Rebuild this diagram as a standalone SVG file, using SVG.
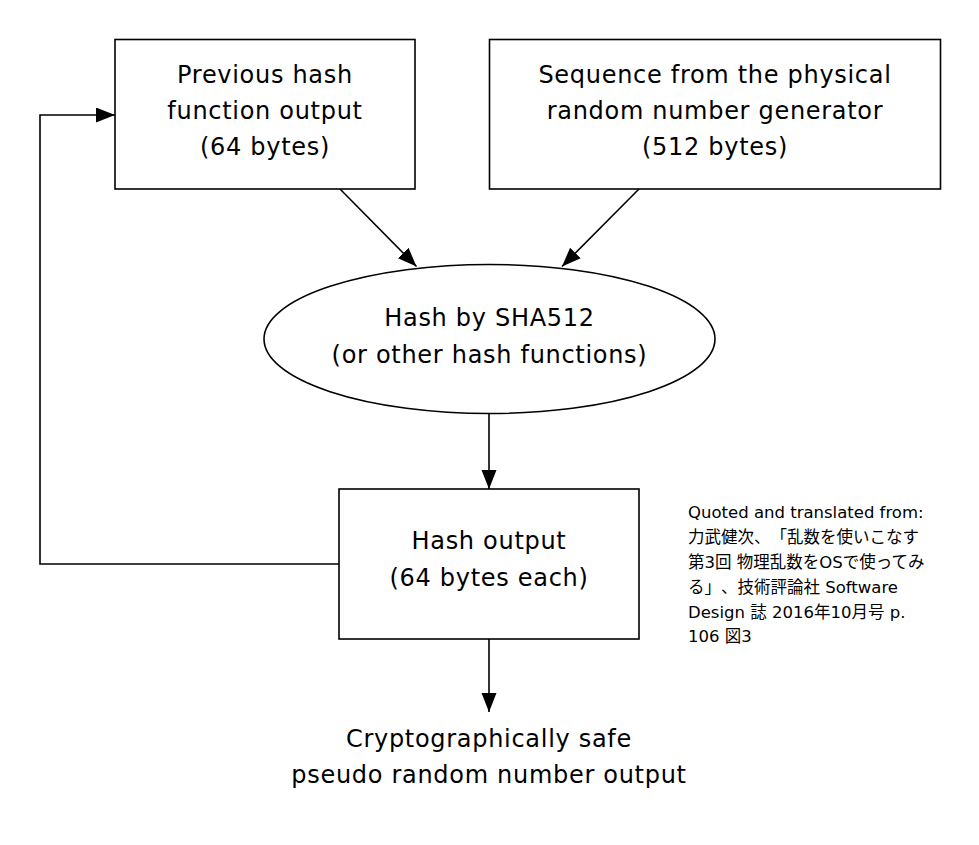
<svg xmlns="http://www.w3.org/2000/svg" width="979" height="845" viewBox="0 0 979 845">
  <style>
    .shape { fill: #ffffff; stroke: #000000; stroke-width: 1.6; }
    .edge { fill: none; stroke: #000000; stroke-width: 1.6; }
    .lbl { font-family: "DejaVu Sans", "Noto Sans CJK JP", sans-serif; font-size: 24px; letter-spacing: 0.7px; fill: #000000; text-anchor: middle; }
    .note { font-family: "DejaVu Sans", "Noto Sans CJK JP", sans-serif; font-size: 16.5px; fill: #000000; text-spacing-trim: space-all; }
  </style>
  <defs>
    <marker id="arrow" markerUnits="userSpaceOnUse" markerWidth="20" markerHeight="16" refX="19" refY="7.5" orient="auto">
      <path d="M0,0 L19,7.5 L0,15 Z" fill="#000000"/>
    </marker>
  </defs>
  <rect width="979" height="845" fill="#ffffff"/>

  <g id="connectors">
    <line class="edge" x1="340" y1="189" x2="416.5" y2="266.5" marker-end="url(#arrow)"/>
    <line class="edge" x1="639" y1="189" x2="562" y2="266.5" marker-end="url(#arrow)"/>
    <line class="edge" x1="489" y1="414" x2="489" y2="489" marker-end="url(#arrow)"/>
    <line class="edge" x1="489" y1="639" x2="489" y2="712" marker-end="url(#arrow)"/>
    <polyline class="edge" points="339,564 40,564 40,115 115,115" marker-end="url(#arrow)"/>
  </g>

  <g id="prev-hash">
    <rect class="shape" x="115" y="39.5" width="300" height="149.5"/>
    <text class="lbl" x="265" y="83">Previous hash</text>
    <text class="lbl" x="265" y="119">function output</text>
    <text class="lbl" x="265" y="155">(64 bytes)</text>
  </g>

  <g id="physical-rng">
    <rect class="shape" x="489.5" y="39.5" width="451" height="149.5"/>
    <text class="lbl" x="715" y="83">Sequence from the physical</text>
    <text class="lbl" x="715" y="119">random number generator</text>
    <text class="lbl" x="715" y="155">(512 bytes)</text>
  </g>

  <g id="sha512">
    <ellipse class="shape" cx="489.5" cy="339" rx="225.5" ry="74.5"/>
    <text class="lbl" x="489.5" y="326">Hash by SHA512</text>
    <text class="lbl" x="489.5" y="363">(or other hash functions)</text>
  </g>

  <g id="hash-output">
    <rect class="shape" x="339" y="489" width="300" height="150"/>
    <text class="lbl" x="489" y="549">Hash output</text>
    <text class="lbl" x="489" y="586">(64 bytes each)</text>
  </g>

  <g id="final-output">
    <text class="lbl" x="489" y="747">Cryptographically safe</text>
    <text class="lbl" x="489" y="783">pseudo random number output</text>
  </g>

  <g id="citation">
    <text class="note" x="688" y="518">Quoted and translated from:</text>
    <text class="note" x="688" y="543">力武健次、「乱数を使いこなす</text>
    <text class="note" x="688" y="568">第3回 物理乱数をOSで使ってみ</text>
    <text class="note" x="688" y="593">る」、技術評論社 Software</text>
    <text class="note" x="688" y="618">Design 誌 2016年10月号 p.</text>
    <text class="note" x="688" y="642">106 図3</text>
  </g>
</svg>
